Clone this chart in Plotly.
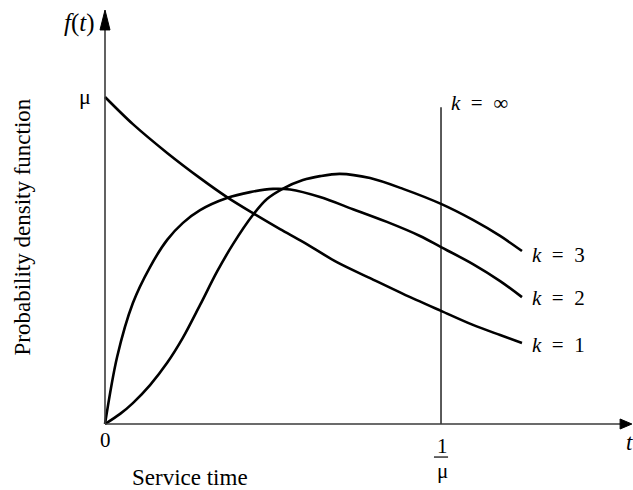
import plotly.graph_objects as go

# time in units of 1/mu, density in units of mu
t_k1 = [0, 0.083, 0.185, 0.283, 0.363, 0.440, 0.521, 0.589, 0.690, 0.789, 0.887, 1.0, 1.095, 1.176, 1.241]
f_k1 = [1.0, 0.917, 0.829, 0.752, 0.694, 0.645, 0.596, 0.557, 0.495, 0.446, 0.398, 0.346, 0.303, 0.272, 0.248]

t_k2 = [0, 0.036, 0.083, 0.134, 0.185, 0.232, 0.283, 0.363, 0.432, 0.5, 0.551, 0.640, 0.738, 0.839, 0.9375, 1.0, 1.095, 1.176, 1.241]
f_k2 = [0, 0.205, 0.370, 0.480, 0.563, 0.615, 0.654, 0.691, 0.709, 0.719, 0.717, 0.694, 0.657, 0.618, 0.575, 0.541, 0.489, 0.437, 0.388]

t_k3 = [0, 0.045, 0.083, 0.134, 0.185, 0.232, 0.283, 0.333, 0.381, 0.440, 0.482, 0.530, 0.589, 0.640, 0.699, 0.789, 0.887, 1.0, 1.095, 1.176, 1.241]
f_k3 = [0, 0.031, 0.064, 0.119, 0.187, 0.264, 0.364, 0.465, 0.550, 0.639, 0.688, 0.720, 0.746, 0.758, 0.765, 0.752, 0.719, 0.673, 0.624, 0.575, 0.529]

k_inf_t = 1.0
k_inf_top = 0.969

curve_labels = ["<i>k</i>\u2002=\u20021", "<i>k</i>\u2002=\u20022", "<i>k</i>\u2002=\u20023"]

FONT = "Liberation Serif"

fig = go.Figure()
for t, f in [(t_k1, f_k1), (t_k2, f_k2), (t_k3, f_k3)]:
    fig.add_trace(go.Scatter(x=t, y=f, mode="lines",
                             line=dict(color="black", width=2.6, shape="spline", smoothing=0.9),
                             hoverinfo="skip", showlegend=False))

# k = infinity: spike at the mean
fig.add_trace(go.Scatter(x=[k_inf_t, k_inf_t], y=[0, k_inf_top], mode="lines",
                         line=dict(color="black", width=1.3), hoverinfo="skip", showlegend=False))

# axes with arrow heads
axis_col = "#3a3a3a"
fig.add_shape(type="line", x0=0, y0=0, x1=1.54, y1=0, line=dict(color=axis_col, width=1.6))
fig.add_shape(type="line", x0=0, y0=0, x1=0, y1=1.22, line=dict(color=axis_col, width=1.6))
fig.add_shape(type="path", path="M 1.533,-0.0153 L 1.568,0 L 1.533,0.0153 Z",
              fillcolor="black", line=dict(color="black", width=1))
fig.add_shape(type="path", path="M -0.0149,1.205 L 0,1.266 L 0.0149,1.205 Z",
              fillcolor="black", line=dict(color="black", width=1))
# fraction bar of 1/mu
fig.add_shape(type="line", x0=0.979, y0=-0.101, x1=1.021, y1=-0.101, line=dict(color="black", width=1.2))


def note(x, y, text, size=20, xanchor="center", yanchor="middle", angle=0):
    fig.add_annotation(x=x, y=y, text=text, showarrow=False, xanchor=xanchor, yanchor=yanchor,
                       textangle=angle, font=dict(family=FONT, size=size, color="black"))


label_y = [0.242, 0.385, 0.517]
for lab, ly in zip(curve_labels, label_y):
    note(1.265, ly, lab, size=21, xanchor="left")
note(1.025, 0.981, "<i>k</i>\u2002=\u2002∞", size=21, xanchor="left")

note(-0.024, 1.225, "<i>f</i>(<i>t</i>)", size=25, xanchor="right")
note(-0.035, 1.003, "μ", size=22, xanchor="right")
note(0, -0.05, "0", size=21)
note(1.003, -0.066, "1", size=21)
note(1.003, -0.145, "μ", size=21)
note(1.56, -0.057, "<i>t</i>", size=23)
note(0.253, -0.165, "Service time", size=23)
note(-0.245, 0.603, "Probability density function", size=23, angle=-90)

fig.update_layout(
    width=633, height=490, autosize=False,
    margin=dict(l=0, r=0, t=0, b=0, pad=0),
    plot_bgcolor="white", paper_bgcolor="white",
    xaxis=dict(range=[-0.3125, 1.5714], visible=False, fixedrange=True),
    yaxis=dict(range=[-0.2018, 1.2966], visible=False, fixedrange=True),
)

# drop the browser's default page margin so the figure sits at the corner
fig.write_html("out.html", config={"displayModeBar": False},
               post_script="document.body.style.margin='0';")
